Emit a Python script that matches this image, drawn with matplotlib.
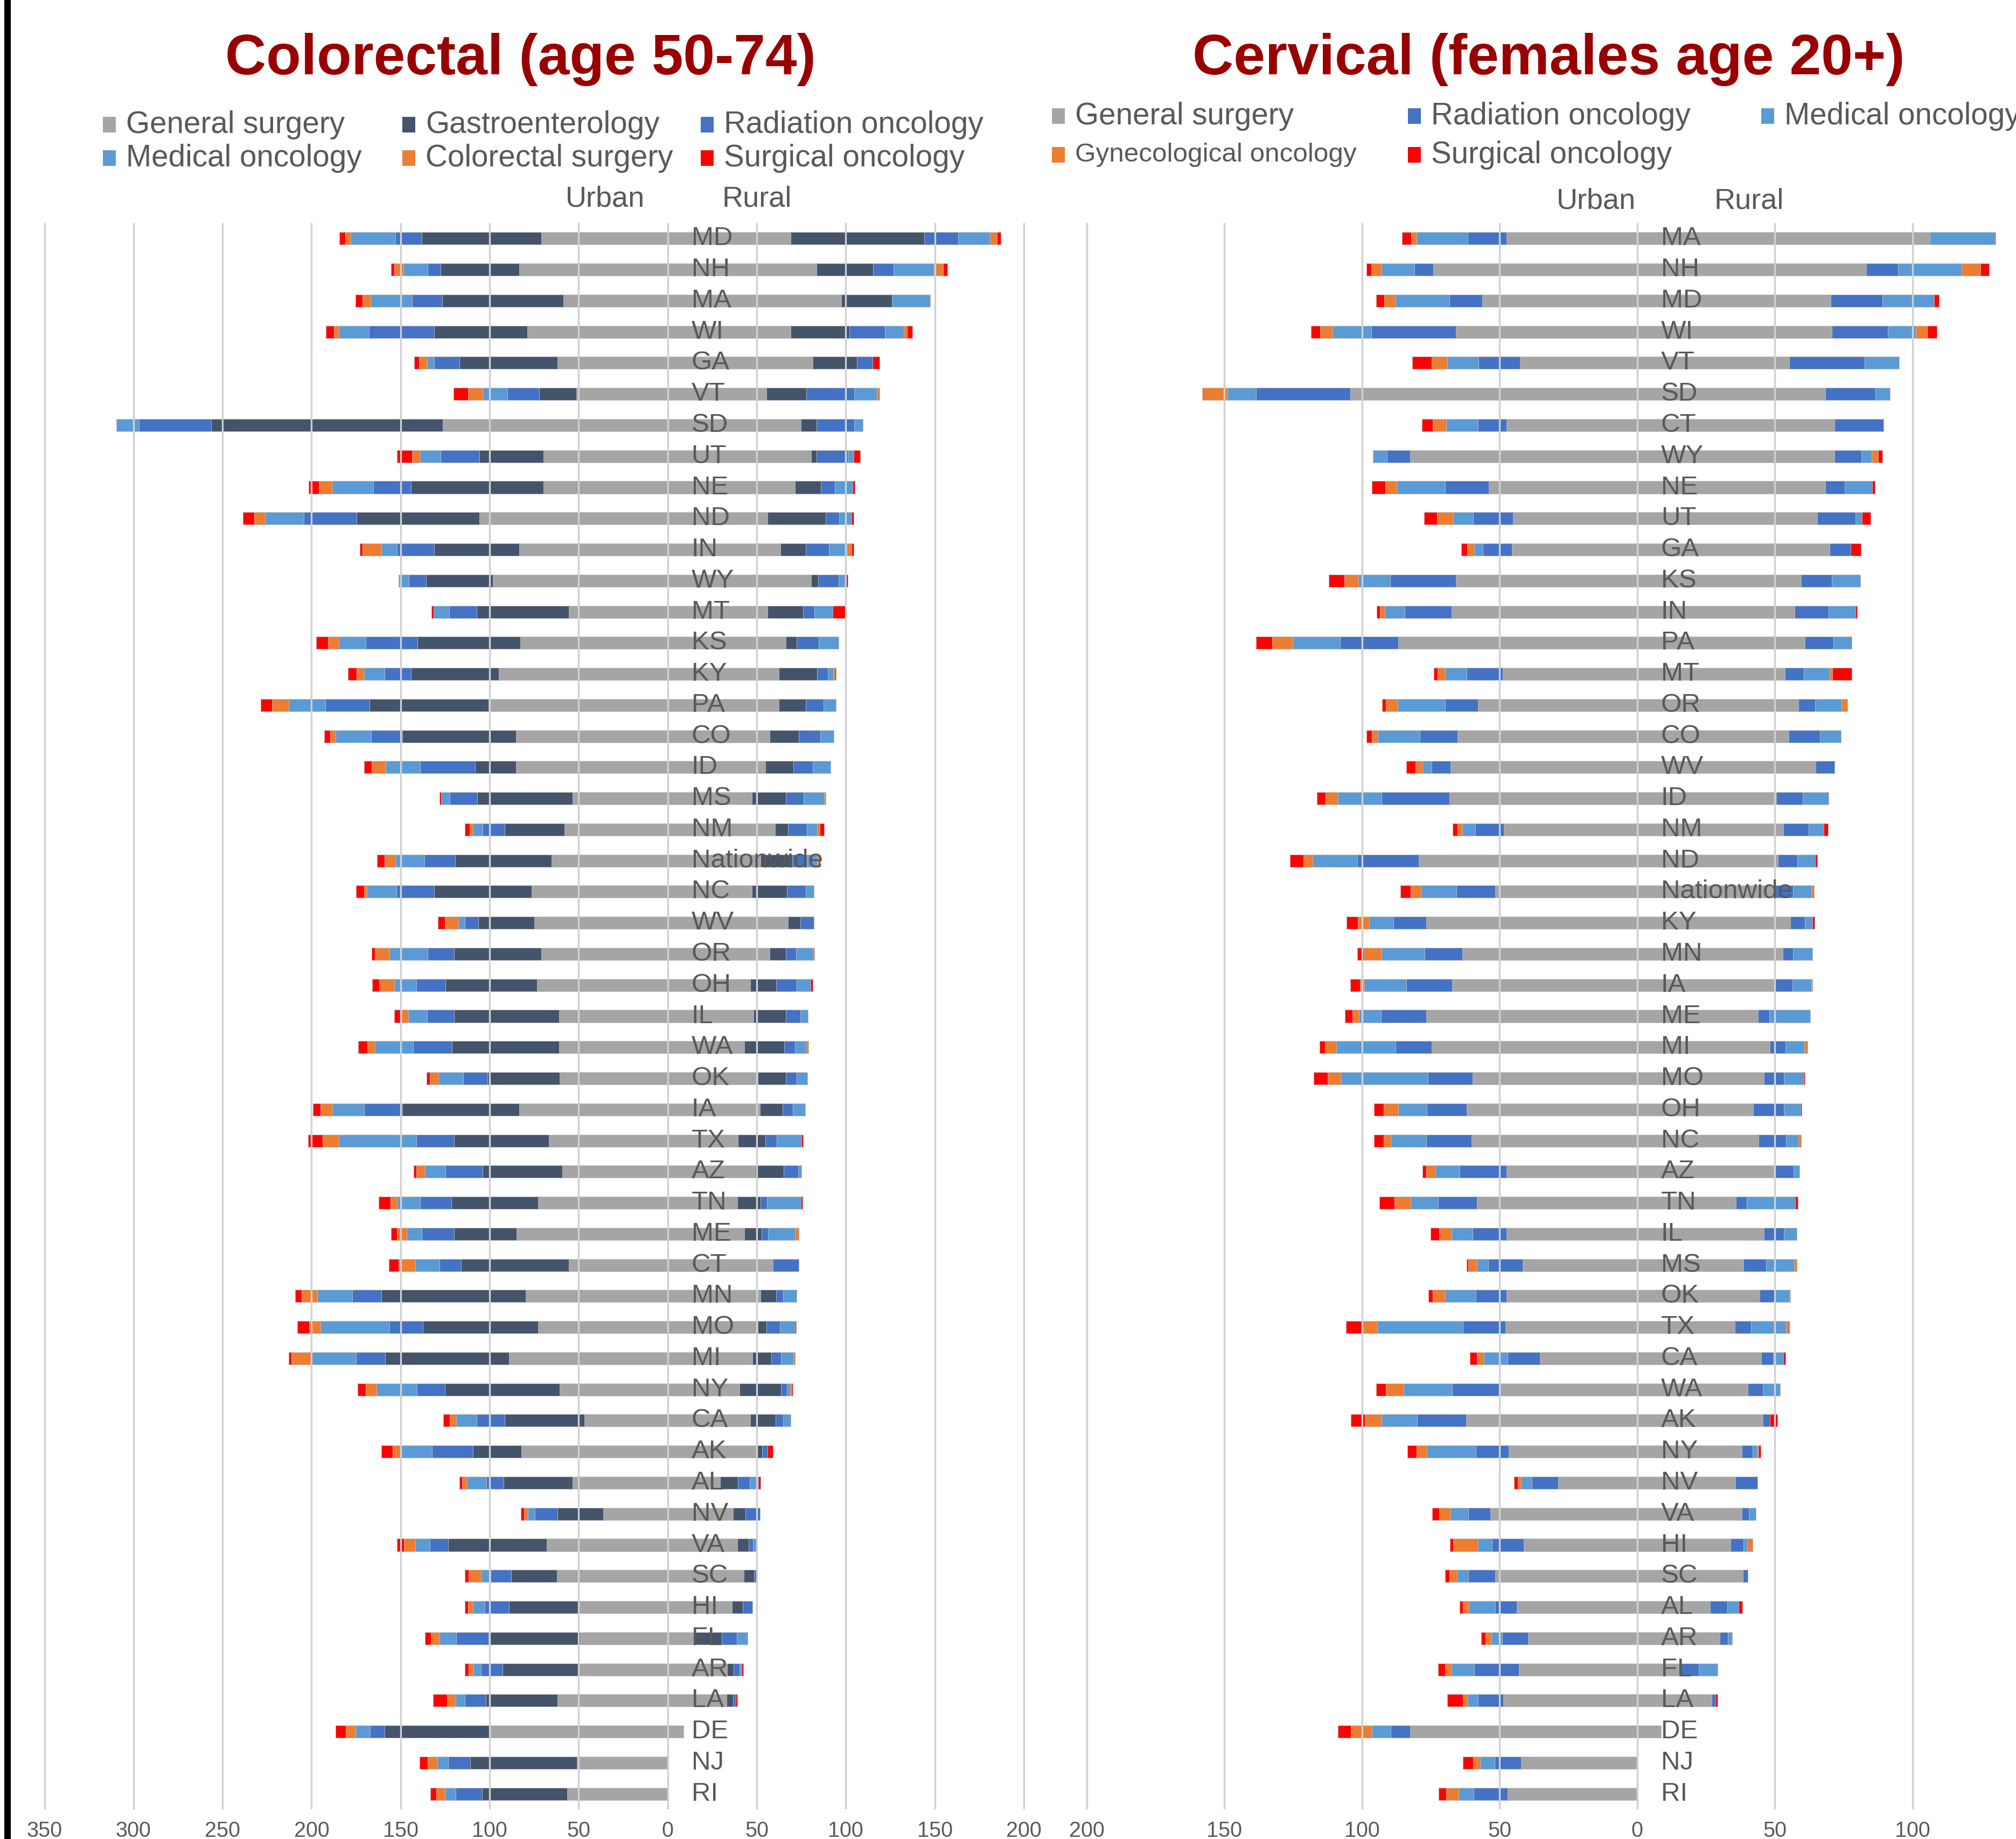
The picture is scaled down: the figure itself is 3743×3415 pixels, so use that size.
import numpy as np
import matplotlib
matplotlib.use("Agg")
import matplotlib.pyplot as plt
from matplotlib.patches import Rectangle
from matplotlib.transforms import ScaledTranslation
from matplotlib.ticker import FuncFormatter

plt.rcParams['font.family'] = ['Liberation Sans', 'DejaVu Sans']

# ---------------- Colorectal (age 50-74) ----------------
cr_states = ["MD", "NH", "MA", "WI", "GA", "VT", "SD", "UT", "NE", "ND",
             "IN", "WY", "MT", "KS", "KY", "PA", "CO", "ID", "MS", "NM",
             "Nationwide", "NC", "WV", "OR", "OH", "IL", "WA", "OK", "IA", "TX",
             "AZ", "TN", "ME", "CT", "MN", "MO", "MI", "NY", "CA", "AK",
             "AL", "NV", "VA", "SC", "HI", "FL", "AR", "LA", "DE", "NJ", "RI"]

cr_u_general_surgery = [71, 83.3, 58.7, 79, 61.8, 51.4, 126.2, 69.8, 69.8, 105.9,
                        83.3, 98.2, 55.6, 82.9, 94.8, 100.5, 85.2, 85.2, 53.3, 57.9,
                        65.2, 76.4, 74.8, 71, 73.3, 61, 61, 60.6, 83.3, 66.8,
                        59.1, 72.9, 84.8, 55.6, 79.8, 72.9, 89, 60.6, 46.8, 82.1,
                        53.3, 36.1, 67.9, 62.2, 50.3, 49.1, 49.9, 61.8, 99.4, 51, 56.4]
cr_u_gastroenterology = [67, 44.1, 67.9, 52.2, 55.3, 20.7, 130.1, 36.1, 74.4, 68.7,
                         48, 37.6, 51.8, 57.6, 49.5, 67.1, 63.7, 23, 53.7, 33.8,
                         54.1, 54.9, 31.5, 49.1, 51.4, 59.1, 60.2, 40.7, 65.6, 53.3,
                         44.9, 48.7, 35.3, 60.6, 81, 64.5, 69.8, 64.5, 44.9, 27.2,
                         38.8, 25.7, 55.3, 25.7, 38.8, 51.4, 43, 40.3, 59.5, 59.9, 48]
cr_u_radiation_oncology = [15, 7.3, 16.9, 36.5, 14.2, 18, 40.7, 21.5, 21.1, 29.9,
                           20.7, 9.6, 15.3, 29.2, 14.6, 24.6, 17.7, 30.7, 15.3, 12.3,
                           17.3, 21.1, 7.7, 14.6, 16.5, 15, 21.9, 13.4, 21.5, 21.1,
                           20.7, 17.3, 18, 11.9, 16.5, 18.8, 16.1, 15.7, 15.7, 23,
                           9.6, 12.7, 10.4, 11.5, 13.8, 18.4, 11.9, 11.9, 8.4, 12.3, 14.6]
cr_u_medical_oncology = [25, 13.8, 23.4, 16.9, 3.8, 13.8, 12.7, 11.5, 23, 21.5,
                         8.8, 5.8, 8.8, 15, 11.5, 20.7, 20, 19.6, 5, 5.4,
                         16.5, 16.5, 3.5, 21.5, 12.3, 10.7, 21.5, 14.2, 18, 43.4,
                         11.5, 13, 8.4, 13.8, 19.6, 38.8, 25.3, 22.6, 11.5, 17.7,
                         11.1, 4.2, 8.1, 5.4, 6.5, 9.2, 4.2, 5, 8.1, 6.1, 6.1]
cr_u_colorectal_surgery = [3, 5, 4.6, 2.7, 4.6, 8.1, 0, 4.6, 7.7, 6.1,
                           10.7, 0, 0, 6.1, 4.2, 9.2, 3.1, 7.7, 0, 1.9,
                           5.8, 1.5, 7.7, 8.1, 8.4, 3.5, 4.2, 4.6, 6.5, 9.2,
                           5, 3.8, 5.4, 9.2, 8.8, 6.5, 11.1, 6.1, 3.5, 4.6,
                           2.7, 1.9, 6.5, 6.9, 2.7, 5, 2.7, 5, 5.4, 5.4, 5]
cr_u_surgical_oncology = [3.5, 1.9, 3.8, 4.6, 2.7, 8.4, 0, 8.4, 5.8, 6.5,
                          1.5, 0, 1.2, 6.5, 5, 6.5, 3.1, 4.2, 0.8, 2.7,
                          4.2, 4.6, 3.8, 1.9, 4.2, 4.2, 5, 1.9, 4.2, 8.1,
                          1.5, 6.5, 3.5, 5.4, 3.5, 6.5, 1.5, 4.6, 3.5, 6.1,
                          1.5, 1.9, 3.8, 2.3, 1.9, 3.1, 2.3, 7.7, 5.8, 4.6, 3.1]

cr_r_general_surgery = [69, 83.6, 97.5, 69.1, 81.3, 55.3, 74.8, 80.6, 71.4, 56,
                        63.3, 80.6, 56, 66.4, 62.5, 62.5, 57.2, 54.9, 47.2, 60.2,
                        52, 47.2, 67.5, 57.2, 46.4, 48.3, 43, 50.7, 51.8, 39.5,
                        49.1, 39.1, 43, 59.1, 52.2, 50.7, 47.6, 40.3, 46.4, 50.3,
                        29.5, 36.8, 39.1, 42.6, 36.1, 15, 33.4, 33, 8.8, 0, 0]
cr_r_gastroenterology = [75, 31.8, 28.4, 33, 24.9, 22.6, 8.8, 3.1, 14.6, 32.6,
                         14.2, 3.8, 20, 6.1, 21.5, 15, 16.5, 15.7, 19.2, 7.3,
                         18, 19.6, 6.9, 9.2, 14.6, 18, 22.3, 15.7, 12.7, 15.3,
                         16.1, 13, 9.6, 0, 8.8, 4.6, 10.7, 23.4, 14.2, 2.7,
                         10, 6.9, 6.5, 5.8, 6.1, 15.3, 3.5, 3.8, 0, 0, 0]
cr_r_radiation_oncology = [19, 11.5, 0, 20, 8.8, 26.9, 21.1, 17.3, 7.7, 7.7,
                           13, 11.5, 6.5, 12.3, 5.8, 10, 11.9, 10.7, 10, 10.7,
                           8, 10.7, 7.7, 5.8, 11.5, 8.1, 6.1, 6.1, 5.8, 6.5,
                           8.1, 3.5, 3.8, 14.6, 3.8, 7.7, 5.4, 3.1, 4.2, 3.1,
                           6.5, 8.1, 2.3, 1.5, 5.4, 8.4, 3.5, 1.5, 0, 0, 0]
cr_r_medical_oncology = [18, 22.6, 21.5, 10.4, 0, 12.7, 5, 3.5, 10, 6.9,
                         10.4, 3.8, 10, 11.1, 3.1, 6.9, 7.7, 10, 11.5, 5.8,
                         6, 4.6, 0, 9.2, 7.7, 4.2, 6.5, 5.8, 6.9, 13.8,
                         1.9, 19.2, 15, 0, 7.7, 8.4, 6.9, 1.9, 4.2, 0,
                         5, 0, 1.9, 0, 0, 6.1, 1.2, 0, 0, 0, 0]
cr_r_colorectal_surgery = [4, 5, 0, 1.9, 0, 1.5, 0, 0, 0, 0,
                           2.3, 0, 0, 0, 0.8, 0, 0, 0, 0.8, 1.5,
                           0.8, 0, 0, 0.8, 0, 0, 1.2, 0, 0, 0,
                           0, 0, 2.3, 0, 0, 0, 0.8, 0.8, 0, 0,
                           0, 0, 0, 0, 0, 0, 0, 0, 0, 0, 0]
cr_r_surgical_oncology = [2, 2.7, 0, 3.1, 3.8, 0, 0, 3.5, 1.2, 1.2,
                          1.2, 1.5, 7.7, 0, 0.8, 0, 0, 0, 0, 2.3,
                          0.8, 0, 0, 0, 1.2, 0, 0, 0, 0, 0.8,
                          0, 0.8, 0, 0, 0, 0.8, 0, 0.8, 0, 3.1,
                          1.2, 0, 0, 0, 0, 0, 0.8, 0.8, 0, 0, 0]

# ---------------- Cervical (females age 20+) ----------------
cv_states = ["MA", "NH", "MD", "WI", "VT", "SD", "CT", "WY", "NE", "UT",
             "GA", "KS", "IN", "PA", "MT", "OR", "CO", "WV", "ID", "NM",
             "ND", "Nationwide", "KY", "MN", "IA", "ME", "MI", "MO", "OH", "NC",
             "AZ", "TN", "IL", "MS", "OK", "TX", "CA", "WA", "AK", "NY",
             "NV", "VA", "HI", "SC", "AL", "AR", "FL", "LA", "DE", "NJ", "RI"]

cv_u_general_surgery = [47.6, 74.2, 56.3, 65.9, 42.6, 104.3, 47.6, 82.5, 53.9, 45.2,
                        45.6, 65.9, 67.5, 86.9, 48.9, 57.8, 65.3, 67.9, 68.3, 48.5,
                        79.5, 51.7, 76.6, 63.5, 67.2, 76.6, 74.7, 59.8, 62, 60.2,
                        47.6, 58.3, 47.6, 41.7, 47.6, 48, 35.4, 49.6, 62.2, 46.7,
                        28.8, 53.3, 41.3, 51.7, 43.7, 39.7, 43, 48.7, 82.5, 42.3, 47.1]
cv_u_radiation_oncology = [14, 6.8, 12, 30.8, 15.1, 34.3, 10.3, 8.5, 15.9, 14.4,
                           10.5, 23.8, 17, 21, 13.1, 12, 13.8, 6.8, 24.7, 10.3,
                           22.3, 14, 12, 13.8, 16.8, 16.6, 13.1, 16.2, 14.4, 16.4,
                           17, 14, 12.2, 12.4, 11.1, 15.3, 11.8, 17.7, 17.7, 12,
                           9.6, 8.1, 11.4, 9.8, 7.9, 9.4, 16.2, 9.2, 7, 9.6, 12.4]
cv_u_medical_oncology = [18.6, 12, 19.6, 14, 11.4, 10.3, 11.6, 5, 17.7, 7.2,
                         3.1, 11.6, 7.2, 17.2, 7.9, 17.2, 15.1, 3.3, 15.7, 4.8,
                         16.2, 12.9, 8.9, 15.7, 15.1, 7.9, 21.6, 31.7, 10.5, 12.9,
                         8.7, 10, 7.6, 4.1, 11.1, 31.2, 8.5, 17.5, 13.1, 17.7,
                         3.9, 6.5, 5.2, 4.1, 9.6, 3.9, 8.3, 3.7, 7, 5.2, 5.5]
cv_u_gynecological_oncology = [2, 3.7, 4.1, 4.6, 5.7, 9.2, 4.8, 0, 4.1, 5.9,
                               2.6, 5.2, 1.7, 7.6, 2.6, 4.4, 2.2, 2.6, 4.6, 1.7,
                               3.3, 3.7, 4.1, 6.3, 1.7, 2.4, 4.1, 4.8, 5.2, 2.6,
                               3.3, 5.9, 4.6, 3.3, 4.6, 5.2, 2.6, 6.5, 5.9, 3.7,
                               1.1, 4.1, 9, 2.6, 2.2, 2.2, 2.4, 1.7, 7.6, 2.6, 4.4]
cv_u_surgical_oncology = [3.3, 1.7, 2.8, 3.3, 7, 0, 3.9, 0, 4.8, 4.8,
                          2.2, 5.5, 1.3, 5.9, 1.5, 1.3, 2, 3.3, 3.1, 1.7,
                          4.8, 3.7, 4.1, 2.4, 3.5, 2.8, 2, 5, 3.5, 3.5,
                          1.5, 5.5, 3.1, 0.4, 1.5, 6.1, 2.6, 3.5, 5.2, 3.5,
                          1.3, 2.6, 1.1, 1.7, 1.1, 1.5, 2.4, 5.7, 4.6, 3.7, 2.8]

cv_r_general_surgery = [106.3, 83.2, 70.3, 70.7, 55.2, 68.3, 71.6, 71.6, 68.3, 65.3,
                        69.9, 59.6, 57.2, 60.9, 53.7, 58.5, 55, 64.8, 50.6, 53,
                        51.1, 49.3, 55.7, 52.8, 49.8, 43.9, 48.2, 46.1, 42.1, 44.1,
                        49.6, 35.8, 46.1, 38.6, 44.5, 35.4, 45, 40.2, 45.6, 38,
                        35.6, 38, 33.8, 38.4, 26.4, 29.9, 15.5, 27.1, 8.7, 0, 0]
cv_r_radiation_oncology = [0, 11.6, 18.8, 20.3, 27.5, 18.3, 17.9, 9.8, 7, 14,
                           7.6, 11.1, 12.4, 10.3, 6.8, 6.1, 11.4, 6.8, 9.6, 9.2,
                           7, 7.2, 5.2, 3.7, 6.5, 4.1, 5.7, 7.2, 11.1, 10,
                           7.2, 3.9, 7.2, 8.3, 5.2, 5.9, 4.4, 5.5, 2.6, 3.9,
                           8.1, 2.6, 4.8, 1.7, 6.3, 3.1, 6.8, 1.3, 0, 0, 0]
cv_r_medical_oncology = [23.8, 23.1, 18.8, 10.3, 12.4, 5.2, 0, 3.7, 10, 2.4,
                         0, 10.3, 9.6, 6.8, 9.4, 9.6, 7.6, 0, 9.4, 5.5,
                         6.5, 6.8, 2.8, 7.2, 7, 14.8, 6.8, 7.2, 6.1, 4.4,
                         2.2, 17.7, 4.6, 10, 5.5, 12.7, 3.7, 6.1, 0, 1.5,
                         0, 2.4, 1.3, 0, 4.1, 1.5, 6.8, 0, 0, 0, 0]
cv_r_gynecological_oncology = [0, 6.8, 0, 4.1, 0, 0, 0, 2.4, 0, 0,
                               0, 0, 0, 0, 0.9, 2.2, 0, 0, 0, 0,
                               0, 0.9, 0, 0, 0.4, 0, 1.1, 0, 0, 1.1,
                               0, 0, 0, 1.1, 0.4, 0.9, 0, 0, 0, 0.7,
                               0, 0, 2, 0, 0, 0, 0, 0, 0, 0, 0]
cv_r_surgical_oncology = [0, 3.1, 1.7, 3.5, 0, 0, 0, 1.5, 1.1, 3.1,
                          3.7, 0, 0.7, 0, 7.2, 0, 0, 0, 0, 1.7,
                          0.7, 0, 0.7, 0, 0, 0, 0, 0.4, 0.4, 0,
                          0, 0.9, 0, 0, 0, 0.4, 0.7, 0, 2.8, 0.7,
                          0, 0, 0, 0, 1.3, 0, 0, 0.7, 0, 0, 0]

# ---------------- styling ----------------
C_GS = '#A5A5A5'
C_GI = '#44546A'
C_RAD = '#4472C4'
C_MED = '#5B9BD5'
C_ORG = '#ED7D31'
C_RED = '#FF0000'
TXT = '#595959'
GRID = '#D0D0D0'
TITLE = '#990000'

W, H = 3743, 3415
fig = plt.figure(figsize=(W / 100, H / 100), dpi=100)
fig.patch.set_facecolor('white')

axL = fig.add_axes([75.9 / W, 1 - 3360 / H, 1831.7 / W, 2946 / H])
axR = fig.add_axes([2007.5 / W, 1 - 3360 / H, (W - 2007.5) / W, 2946 / H])


def draw_panel(ax, states, urban, rural, colors, xlim, ticks):
    y = np.arange(len(states))
    cum = np.zeros(len(states))
    for vals, col in zip(urban, colors):
        v = np.asarray(vals, dtype=float)
        ax.barh(y, -v, left=-cum, height=0.4, color=col, edgecolor='#BFBFBF',
                linewidth=0.5, zorder=2)
        cum = cum + v
    cum = np.zeros(len(states))
    for vals, col in zip(rural, colors):
        v = np.asarray(vals, dtype=float)
        ax.barh(y, v, left=cum, height=0.4, color=col, edgecolor='#BFBFBF',
                linewidth=0.5, zorder=2)
        cum = cum + v
    for t in ticks:
        ax.axvline(t, color=GRID, lw=2.4, zorder=3)
    off = ax.transData + ScaledTranslation(0.44, 0, fig.dpi_scale_trans)
    for i, s in enumerate(states):
        ax.text(0, i, s, transform=off, ha='left', va='center', fontsize=35.5,
                color=TXT, zorder=5)
    ax.set_xlim(*xlim)
    ax.set_ylim(len(states) - 0.5, -0.5)
    ax.set_xticks(ticks)
    ax.xaxis.set_major_formatter(FuncFormatter(lambda v, p: f"{abs(int(round(v)))}"))
    ax.tick_params(axis='x', length=0, pad=15, labelsize=28.5, labelcolor=TXT)
    ax.set_yticks([])
    for sp in ax.spines.values():
        sp.set_visible(False)
    ax.set_facecolor('none')


draw_panel(axL, cr_states,
           [cr_u_general_surgery, cr_u_gastroenterology, cr_u_radiation_oncology,
            cr_u_medical_oncology, cr_u_colorectal_surgery, cr_u_surgical_oncology],
           [cr_r_general_surgery, cr_r_gastroenterology, cr_r_radiation_oncology,
            cr_r_medical_oncology, cr_r_colorectal_surgery, cr_r_surgical_oncology],
           [C_GS, C_GI, C_RAD, C_MED, C_ORG, C_RED],
           (-352, 202), list(range(-350, 201, 50)))

draw_panel(axR, cv_states,
           [cv_u_general_surgery, cv_u_radiation_oncology, cv_u_medical_oncology,
            cv_u_gynecological_oncology, cv_u_surgical_oncology],
           [cv_r_general_surgery, cv_r_radiation_oncology, cv_r_medical_oncology,
            cv_r_gynecological_oncology, cv_r_surgical_oncology],
           [C_GS, C_RAD, C_MED, C_ORG, C_RED],
           (-202, 137.6), list(range(-200, 101, 50)))

# left black border line
fig.add_artist(Rectangle((8 / W, 0), 12 / W, 1, transform=fig.transFigure,
                         facecolor='black', edgecolor='none'))

# titles
fig.text(966 / W, 1 - 138 / H, "Colorectal (age 50-74)", ha='center', va='baseline',
         fontsize=76, fontweight='bold', color=TITLE)
fig.text(2875 / W, 1 - 138 / H, "Cervical (females age 20+)", ha='center', va='baseline',
         fontsize=76, fontweight='bold', color=TITLE)


def legend_item(xpx, ypx, label, color, size=40.8):
    fig.add_artist(Rectangle((xpx / W, 1 - (ypx + 14) / H), 24 / W, 29 / H,
                             transform=fig.transFigure, facecolor=color, edgecolor='none'))
    fig.text((xpx + 43) / W, 1 - ypx / H, label, ha='left', va='center',
             fontsize=size, color=TXT)


legend_item(191, 232, "General surgery", C_GS)
legend_item(747, 232, "Gastroenterology", C_GI)
legend_item(1301, 232, "Radiation oncology", C_RAD)
legend_item(191, 294, "Medical oncology", C_MED)
legend_item(747, 294, "Colorectal surgery", C_ORG)
legend_item(1301, 294, "Surgical oncology", C_RED)

legend_item(1953, 216, "General surgery", C_GS)
legend_item(2614, 216, "Radiation oncology", C_RAD)
legend_item(3270, 216, "Medical oncology", C_MED)
legend_item(1953, 288, "Gynecological oncology", C_ORG, size=35.6)
legend_item(2614, 288, "Surgical oncology", C_RED)

# Urban / Rural headers
for xc, yc, t in [(1124, 370, "Urban"), (1405, 370, "Rural"),
                  (2963, 374, "Urban"), (3247, 374, "Rural")]:
    fig.text(xc / W, 1 - yc / H, t, ha='center', va='center', fontsize=39, color=TXT)

fig.savefig("out.png", dpi=100, facecolor='white')
